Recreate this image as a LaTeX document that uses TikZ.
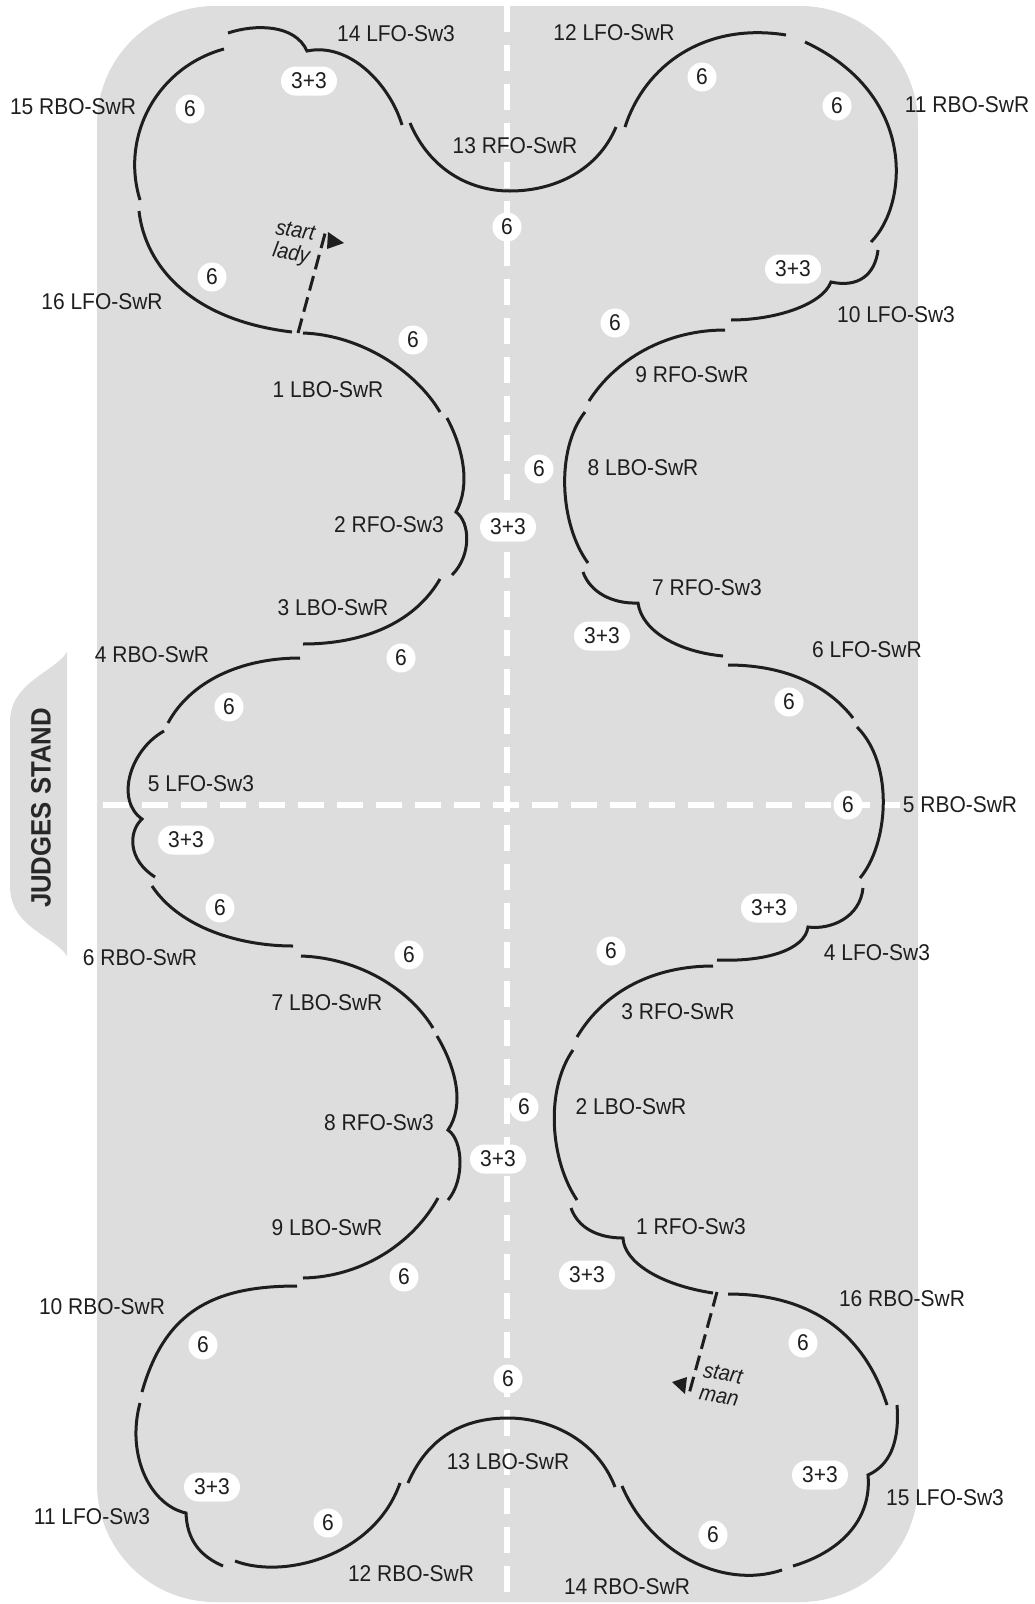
\documentclass[tikz,border=0pt]{standalone}
\usepackage{fontspec}
\setmainfont{Liberation Sans}[FakeStretch=0.92]
\definecolor{rink}{RGB}{221,221,221}
\definecolor{ink}{RGB}{30,30,30}
\definecolor{standtext}{RGB}{40,40,40}
\tikzset{
  trace/.style={draw=ink, line width=3pt},
  startpath/.style={draw=ink, line width=3pt, dash pattern=on 15pt off 7pt},
  axis/.style={draw=white, line width=6pt, dash pattern=on 26pt off 13pt},
  steplabel/.style={font=\fontsize{22.8}{26}\selectfont, text=ink, inner sep=0pt},
  count/.style={circle, fill=white, minimum size=29pt, inner sep=0pt,
    font=\fontsize{22.8}{26}\selectfont, text=ink},
  split/.style={rectangle, rounded corners=14.5pt, fill=white, minimum width=56pt,
    minimum height=29pt, inner sep=0pt, font=\fontsize{22.8}{26}\selectfont, text=ink},
  startnote/.style={font=\itshape\fontsize{22}{23}\selectfont, text=ink, align=center,
    rotate=-10, inner sep=0pt},
  tip/.style={fill=ink}
}
\begin{document}
\begin{tikzpicture}[x=1pt,y=-1pt]
\useasboundingbox (0,0) rectangle (1034,1604);

% ice surface and judges stand
\fill[rink, rounded corners=118pt] (97,6) rectangle (918,1602);
\fill[rink] (67,652) .. controls (55,672) and (10,682) .. (10,722) -- (10,886)
  .. controls (10,928) and (55,936) .. (67,956) -- cycle;
\node[font=\bfseries\fontsize{28}{30}\selectfont, text=standtext, rotate=90] (stand) at (41,808) {JUDGES STAND};

% long and short axes
\coordinate (vtop) at (507,6);
\coordinate (vbot) at (507,1604);
\coordinate (hleft) at (103,805);
\coordinate (hright) at (900,805);
\draw[axis] (vtop) -- (vbot);
\draw[axis] (hleft) -- (hright);

% upper half
\draw[trace] (224,49) .. controls (158,67) and (120,135) .. (140,200);
\draw[trace] (139,211) .. controls (145,265) and (190,320) .. (292,332);
\draw[trace] (228,33) .. controls (255,24) and (295,24) .. (307,51)
  .. controls (350,42) and (390,85) .. (402,125);
\draw[trace] (410,123) .. controls (430,170) and (470,191) .. (510,191)
  .. controls (555,191) and (598,170) .. (616,127);
\draw[trace] (786,35) .. controls (705,22) and (645,65) .. (625,127);
\draw[trace] (871,242) .. controls (908,205) and (918,95) .. (805,42);
\draw[trace] (731,320) .. controls (775,320) and (822,305) .. (831,282)
  .. controls (858,288) and (875,275) .. (878,250);
\draw[trace] (589,401) .. controls (615,360) and (665,330) .. (725,330);
\draw[trace] (588,563) .. controls (560,525) and (555,450) .. (585,412);
\draw[trace] (723,656) .. controls (680,652) and (642,632) .. (638,603)
  .. controls (612,604) and (590,592) .. (583,572);
\draw[trace] (853,718) .. controls (825,682) and (780,665) .. (728,665);
\draw[trace] (860,878) .. controls (888,845) and (895,765) .. (857,727);
\draw[trace] (717,960) .. controls (765,962) and (805,950) .. (808,927)
  .. controls (830,930) and (860,918) .. (863,888);

% left side
\draw[trace] (303,333) .. controls (360,335) and (415,370) .. (440,412);
\draw[trace] (447,418) .. controls (463,448) and (471,485) .. (456,512)
  .. controls (470,522) and (472,555) .. (452,575);
\draw[trace] (440,579) .. controls (415,622) and (365,644) .. (303,644);
\draw[trace] (300,658) .. controls (240,658) and (190,682) .. (168,723);
\draw[trace] (164,731) .. controls (130,750) and (115,800) .. (142,819)
  .. controls (128,832) and (128,860) .. (155,877);
\draw[trace] (152,886) .. controls (180,928) and (240,946) .. (293,946);
\draw[trace] (301,956) .. controls (360,958) and (410,990) .. (433,1028);
\draw[trace] (437,1036) .. controls (456,1068) and (465,1105) .. (448,1130)
  .. controls (463,1140) and (465,1180) .. (448,1200);
\draw[trace] (438,1198) .. controls (412,1245) and (360,1277) .. (303,1278);
\draw[trace] (297,1286) .. controls (215,1286) and (165,1310) .. (142,1392);
\draw[trace] (140,1403) .. controls (126,1455) and (150,1505) .. (186,1513)
  .. controls (187,1540) and (200,1556) .. (223,1566);
\draw[trace] (235,1561) .. controls (285,1580) and (375,1555) .. (400,1483);

% lower half
\draw[trace] (408,1483) .. controls (430,1432) and (470,1418) .. (508,1418)
  .. controls (550,1418) and (597,1440) .. (615,1487);
\draw[trace] (622,1486) .. controls (650,1552) and (722,1590) .. (782,1570);
\draw[trace] (793,1566) .. controls (840,1552) and (872,1520) .. (868,1475)
  .. controls (888,1466) and (900,1445) .. (897,1405);
\draw[trace] (728,1294) .. controls (795,1294) and (860,1320) .. (887,1405);
\draw[trace] (571,1208) .. controls (578,1228) and (598,1238) .. (623,1238)
  .. controls (624,1262) and (660,1285) .. (713,1293);
\draw[trace] (577,1200) .. controls (550,1160) and (545,1090) .. (573,1050);
\draw[trace] (577,1037) .. controls (605,990) and (655,966) .. (713,966);

% starting positions
\coordinate (ladyfoot) at (298,333);
\coordinate (ladyhead) at (326,230);
\draw[startpath] (ladyfoot) -- (ladyhead);
\fill[tip] (328,232) -- (344,243) -- (327,249) -- cycle;
\node[startnote] (ladynote) at (293,244) {start\\lady};
\coordinate (manfoot) at (717,1292);
\coordinate (manhead) at (689,1394);
\draw[startpath] (manfoot) -- (manhead);
\fill[tip] (672,1382) -- (687,1377) -- (685,1394) -- cycle;
\node[startnote] (mannote) at (721,1385) {start\\man};

% beat counts
\node[count] (c1) at (190,109) {6};
\node[count] (c2) at (212,277) {6};
\node[count] (c3) at (413,340) {6};
\node[count] (c4) at (507,227) {6};
\node[count] (c5) at (702,77) {6};
\node[count] (c6) at (837,106) {6};
\node[count] (c7) at (615,323) {6};
\node[count] (c8) at (401,658) {6};
\node[count] (c9) at (539,469) {6};
\node[count] (c10) at (229,707) {6};
\node[count] (c11) at (220,908) {6};
\node[count] (c12) at (409,955) {6};
\node[count] (c13) at (789,702) {6};
\node[count] (c14) at (848,805) {6};
\node[count] (c15) at (611,951) {6};
\node[count] (c16) at (404,1277) {6};
\node[count] (c17) at (203,1345) {6};
\node[count] (c18) at (524,1107) {6};
\node[count] (c19) at (803,1343) {6};
\node[count] (c20) at (508,1379) {6};
\node[count] (c21) at (328,1523) {6};
\node[count] (c22) at (713,1535) {6};
\node[split] (s1) at (309,81) {3+3};
\node[split] (s2) at (793,269) {3+3};
\node[split] (s3) at (508,527) {3+3};
\node[split] (s4) at (602,636) {3+3};
\node[split] (s5) at (186,840) {3+3};
\node[split] (s6) at (769,908) {3+3};
\node[split] (s7) at (498,1159) {3+3};
\node[split] (s8) at (587,1275) {3+3};
\node[split] (s9) at (212,1487) {3+3};
\node[split] (s10) at (820,1475) {3+3};

% step names
\node[steplabel] (a14) at (396,34) {14 LFO-Sw3};
\node[steplabel] (a15) at (73,107) {15 RBO-SwR};
\node[steplabel] (a13) at (515,146) {13 RFO-SwR};
\node[steplabel] (a16) at (102,302) {16 LFO-SwR};
\node[steplabel] (a12) at (614,33) {12 LFO-SwR};
\node[steplabel] (a11) at (967,105) {11 RBO-SwR};
\node[steplabel] (a10) at (896,315) {10 LFO-Sw3};
\node[steplabel] (a9) at (692,375) {9 RFO-SwR};
\node[steplabel] (a8) at (643,468) {8 LBO-SwR};
\node[steplabel] (a7) at (707,588) {7 RFO-Sw3};
\node[steplabel] (a6) at (867,650) {6 LFO-SwR};
\node[steplabel] (a5) at (960,805) {5 RBO-SwR};
\node[steplabel] (a4) at (877,953) {4 LFO-Sw3};
\node[steplabel] (a3) at (678,1012) {3 RFO-SwR};
\node[steplabel] (a2) at (631,1107) {2 LBO-SwR};
\node[steplabel] (a1) at (691,1227) {1 RFO-Sw3};
\node[steplabel] (b1) at (328,390) {1 LBO-SwR};
\node[steplabel] (b2) at (389,525) {2 RFO-Sw3};
\node[steplabel] (b3) at (333,608) {3 LBO-SwR};
\node[steplabel] (b4) at (152,655) {4 RBO-SwR};
\node[steplabel] (b5) at (201,784) {5 LFO-Sw3};
\node[steplabel] (b6) at (140,958) {6 RBO-SwR};
\node[steplabel] (b7) at (327,1003) {7 LBO-SwR};
\node[steplabel] (b8) at (379,1123) {8 RFO-Sw3};
\node[steplabel] (b9) at (327,1228) {9 LBO-SwR};
\node[steplabel] (b10) at (102,1307) {10 RBO-SwR};
\node[steplabel] (b11) at (92,1517) {11 LFO-Sw3};
\node[steplabel] (b12) at (411,1574) {12 RBO-SwR};
\node[steplabel] (b13) at (508,1462) {13 LBO-SwR};
\node[steplabel] (b14) at (627,1587) {14 RBO-SwR};
\node[steplabel] (b15) at (945,1498) {15 LFO-Sw3};
\node[steplabel] (b16) at (902,1299) {16 RBO-SwR};
\end{tikzpicture}
\end{document}
